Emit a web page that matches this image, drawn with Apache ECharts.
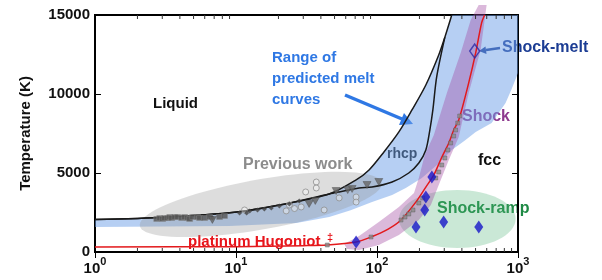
<!DOCTYPE html>
<html><head><meta charset="utf-8">
<title>Platinum melting curve</title>
<script src="https://cdn.jsdelivr.net/npm/echarts@6/dist/echarts.min.js"></script>
<style>
  html, body { margin: 0; padding: 0; background: #fff; }
  #chart { width: 602px; height: 280px; }
</style>
</head>
<body>
<div id="chart"></div>
<script>
// pressure (GPa, log axis) vs temperature (K)
var xRange = [1, 1000];
var yRange = [0, 15000];
var yStep = 5000;
var xMinorTicks = [2,3,4,5,6,7,8,9,20,30,40,50,60,70,80,90,200,300,400,500,600,700,800,900];

// melt curves (black)
var outerMelt = [[1,2050],[3.18,2200],[10.1,2530],[20.3,2970],[45.8,3670],[71.1,4560],[87.8,5190],[112,6330],[143,7600],[177,8990],[222,10570],[274,12470],[303,13600],[339,15000]];
var rhcpMelt = [[1,2050],[3.18,2200],[10.1,2530],[20.3,2970],[45.8,3670],[53.9,3800],[74.6,4050],[92.2,4110],[128,4430],[168,5000],[198,5630],[222,6460],[237,7720],[249,8990],[265,11080],[303,13600]];

// lower / right edge of the predicted range band
var bandLower = [[1000,15000],[1000,11330],[900,10300],[816,9430],[650,8165],[501,7595],[420,7050],[339,6456],[270,5550],[208,4684],[160,4050],[128,3608],[92.2,3165],[65,2650],[45.8,2215],[26.8,1835],[9,1646],[1,1580]];

// platinum Hugoniot (red)
var hugoniot = [[1,320],[10,340],[30,400],[44.4,443],[71.1,633],[90.7,950],[120,1450],[148,2025],[189,3170],[222,4110],[253,4880],[288,6000],[323,6900],[350,7720],[380,8350],[447,10700],[501,12600],[552,14500],[580,15000]];
var hugoniotPts = [[44.4,443],[90.7,949],[148,2025],[158,2215],[168,2405],[180,2658],[198,3101],[211,3418],[261,4684],[274,5063],[288,5506],[303,5949],[318,6456],[333,6899],[350,7342],[361,7721],[374,8164],[386,8607]];

// shock region (purple)
var shockArea = [[58.5,506],[74.6,1013],[103,1899],[143,2848],[183,3734],[198,4684],[218,6139],[253,7405],[313,10063],[392,12595],[462,14683],[526,15633],[599,15633],[543,12785],[447,10063],[380,7278],[323,5823],[274,4241],[241,2975],[198,2025],[143,1076],[103,443],[74.6,127],[61.4,190]];
// previous work ellipse: two tips
var prevWorkTips = [[2.08,1650],[108,4370]];
// shock-ramp ellipse: bounding corners
var rampBox = [[143,253],[962,3924]];

// previous work data
var prevSquares = [[2.74,2090],[2.88,2150],[3.02,2090],[3.12,2150],[3.28,2150],[3.39,2215],[3.5,2150],[3.68,2215],[3.86,2215],[4.12,2150],[4.32,2215],[4.54,2150],[4.69,2090],[4.93,2215],[5.34,2215],[5.52,2150],[5.99,2150],[6.5,2215],[7.64,2215],[8.29,2280]];
var prevSmall = [[6.82,2150],[10.6,2470],[11.9,2470],[12.5,2600],[14.2,2660],[15.9,2720],[17.8,2790],[20.3,2910],[23.9,3040],[28.1,3230]];
var prevTriangles = [[6.8,2030],[33,3040],[36.5,3230],[51.3,3860],[62,3920],[66.6,3990],[85,4240],[103,4430]];
var prevCircles = [[11.5,2660],[22.7,2600],[23.9,2975],[26,2750],[29,2850],[31.2,3800],[37.1,4430],[37.1,4050],[42.2,2660],[53.9,3420],[71.1,3480],[71.1,3160]];

// this work
var shockRamp = [[71.1,633],[245,4750],[222,3480],[218,2660],[189,1580],[297,1900],[527,1580]];
var shockMelt = [[493,12720]];

var FONT = '"Liberation Sans", Arial, sans-serif';

function polygonSeries(pts, color, z) {
  return {
    type: 'custom', silent: true, z: z, data: pts, encode: { x: 0, y: 1 },
    renderItem: function (params, api) {
      if (params.dataIndex !== 0) return null;
      var p = pts.map(function (d) { return api.coord(d); });
      return { type: 'polygon', shape: { points: p }, style: { fill: color } };
    }
  };
}

function tipEllipseSeries(tips, half, color, z) {
  return {
    type: 'custom', silent: true, z: z, data: tips, encode: { x: 0, y: 1 },
    renderItem: function (params, api) {
      if (params.dataIndex !== 0) return null;
      var p1 = api.coord(tips[0]), p2 = api.coord(tips[1]);
      var cx = (p1[0] + p2[0]) / 2, cy = (p1[1] + p2[1]) / 2;
      var dx = p2[0] - p1[0], dy = p2[1] - p1[1];
      var len = Math.sqrt(dx * dx + dy * dy) / 2, ang = Math.atan2(dy, dx);
      var pts = [];
      for (var i = 0; i < 90; i++) {
        var t = i / 90 * 2 * Math.PI, u = len * Math.cos(t), v = half * Math.sin(t);
        pts.push([cx + u * Math.cos(ang) - v * Math.sin(ang), cy + u * Math.sin(ang) + v * Math.cos(ang)]);
      }
      return { type: 'polygon', shape: { points: pts }, style: { fill: color } };
    }
  };
}

function boxEllipseSeries(box, color, z) {
  return {
    type: 'custom', silent: true, z: z, data: box, encode: { x: 0, y: 1 },
    renderItem: function (params, api) {
      if (params.dataIndex !== 0) return null;
      var p1 = api.coord(box[0]), p2 = api.coord(box[1]);
      return {
        type: 'ellipse',
        shape: { cx: (p1[0] + p2[0]) / 2, cy: (p1[1] + p2[1]) / 2, rx: Math.abs(p2[0] - p1[0]) / 2, ry: Math.abs(p2[1] - p1[1]) / 2 },
        style: { fill: color }
      };
    }
  };
}

var minorTickSeries = {
  type: 'custom', silent: true, z: 20, data: xMinorTicks.map(function (v) { return [v, yRange[0]]; }),
  encode: { x: 0, y: 1 },
  renderItem: function (params, api) {
    var v = api.value(0);
    var b = api.coord([v, yRange[0]]), t = api.coord([v, yRange[1]]);
    return { type: 'group', children: [
      { type: 'line', shape: { x1: b[0], y1: b[1], x2: b[0], y2: b[1] - 4 }, style: { stroke: '#333', lineWidth: 1 } },
      { type: 'line', shape: { x1: t[0], y1: t[1], x2: t[0], y2: t[1] + 4 }, style: { stroke: '#333', lineWidth: 1 } }
    ] };
  }
};

function xLabel(v) {
  var e = Math.round(Math.log(v) / Math.LN10);
  return '{b|10}{s|' + e + '}';
}

var chart = echarts.init(document.getElementById('chart'));
chart.setOption({
  animation: false,
  grid: { left: 95, right: 84, top: 15, bottom: 28, show: true, borderColor: '#000', borderWidth: 2, backgroundColor: 'transparent' },
  xAxis: [{
    type: 'log', logBase: 10, min: xRange[0], max: xRange[1], position: 'bottom',
    axisLine: { lineStyle: { color: '#000', width: 2 } },
    axisTick: { inside: true, length: 6, lineStyle: { color: '#000' } },
    splitLine: { show: false },
    axisLabel: {
      margin: 6, formatter: xLabel,
      rich: {
        b: { fontFamily: FONT, fontSize: 15, fontWeight: 'bold', color: '#111', lineHeight: 18, verticalAlign: 'bottom' },
        s: { fontFamily: FONT, fontSize: 11, fontWeight: 'bold', color: '#111', lineHeight: 12, padding: [0, 0, 9, 0], verticalAlign: 'bottom' }
      }
    }
  }, {
    type: 'log', logBase: 10, min: xRange[0], max: xRange[1], position: 'top',
    axisLine: { lineStyle: { color: '#000', width: 2 } },
    axisTick: { inside: true, length: 6, lineStyle: { color: '#000' } },
    splitLine: { show: false }, axisLabel: { show: false }
  }],
  yAxis: [{
    type: 'value', min: yRange[0], max: yRange[1], interval: yStep,
    name: 'Temperature (K)', nameLocation: 'middle', nameGap: 62,
    nameTextStyle: { fontFamily: FONT, fontSize: 15, fontWeight: 'bold', color: '#111' },
    axisLine: { show: true, lineStyle: { color: '#000', width: 2 } },
    axisTick: { inside: true, length: 6, lineStyle: { color: '#000' } },
    splitLine: { show: false },
    axisLabel: { margin: 5, fontFamily: FONT, fontSize: 15, fontWeight: 'bold', color: '#111',
      formatter: function (v) { return String(v); } }
  }, {
    type: 'value', min: yRange[0], max: yRange[1], interval: yStep, position: 'right',
    axisLine: { show: true, lineStyle: { color: '#000', width: 2 } },
    axisTick: { inside: true, length: 6, lineStyle: { color: '#000' } },
    splitLine: { show: false }, axisLabel: { show: false }
  }],
  series: [
    polygonSeries(outerMelt.concat(bandLower), 'rgba(110,160,232,0.5)', 1),
    tipEllipseSeries(prevWorkTips, 25, 'rgba(150,150,150,0.32)', 2),
    boxEllipseSeries(rampBox, 'rgba(80,180,120,0.3)', 3),
    polygonSeries(shockArea, 'rgba(160,70,160,0.38)', 4),
    { type: 'line', data: outerMelt, smooth: 0.3, symbol: 'none', z: 5, lineStyle: { color: '#1a1a1a', width: 1.5 } },
    { type: 'line', data: rhcpMelt, smooth: 0.3, symbol: 'none', z: 5, lineStyle: { color: '#1a1a1a', width: 1.5 } },
    { type: 'line', data: hugoniot, smooth: 0.3, symbol: 'none', z: 5, lineStyle: { color: '#e3191c', width: 1.5 } },
    { type: 'scatter', data: prevCircles, symbol: 'circle', symbolSize: 6, z: 6,
      itemStyle: { color: 'rgba(255,255,255,0.5)', borderColor: '#8e8e8e', borderWidth: 1 } },
    { type: 'scatter', data: prevSquares, symbol: 'rect', symbolSize: [6, 5], z: 6,
      itemStyle: { color: '#555', borderColor: '#888', borderWidth: 0.5 } },
    { type: 'scatter', data: prevSmall, symbol: 'diamond', symbolSize: 5, z: 6, itemStyle: { color: '#444' } },
    { type: 'scatter', data: prevTriangles, symbol: 'triangle', symbolRotate: 180, symbolSize: [8, 7], z: 6,
      itemStyle: { color: '#666', borderColor: '#444', borderWidth: 0.5 } },
    { type: 'scatter', data: hugoniotPts, symbol: 'rect', symbolSize: 4, z: 7,
      itemStyle: { color: '#8a8a8a', borderColor: '#555', borderWidth: 0.5 } },
    { type: 'scatter', data: shockRamp, symbol: 'diamond', symbolSize: [9, 13], z: 8, itemStyle: { color: '#1616c8' } },
    { type: 'scatter', data: shockMelt, symbol: 'diamond', symbolSize: [10, 14], z: 8,
      itemStyle: { color: 'rgba(0,0,0,0)', borderColor: '#2a2aa6', borderWidth: 1.5 } },
    minorTickSeries
  ],
  graphic: [
    { type: 'text', x: 153, y: 104, style: { text: 'Liquid', font: 'bold 15px ' + FONT, fill: '#111', textVerticalAlign: 'middle' } },
    { type: 'text', x: 272, y: 58, style: { text: 'Range of', font: 'bold 15px ' + FONT, fill: '#2f78e4', textVerticalAlign: 'middle' } },
    { type: 'text', x: 272, y: 79, style: { text: 'predicted melt', font: 'bold 15px ' + FONT, fill: '#2f78e4', textVerticalAlign: 'middle' } },
    { type: 'text', x: 272, y: 100, style: { text: 'curves', font: 'bold 15px ' + FONT, fill: '#2f78e4', textVerticalAlign: 'middle' } },
    { type: 'line', shape: { x1: 345, y1: 95, x2: 402, y2: 119 }, style: { stroke: '#2f78e4', lineWidth: 3.5 } },
    { type: 'polygon', shape: { points: [[413, 124], [399, 125], [404, 113]] }, style: { fill: '#2f78e4' } },
    { type: 'text', x: 243, y: 165, style: { text: 'Previous work', font: 'bold 16px ' + FONT, fill: '#8c8c8c', textVerticalAlign: 'middle' } },
    { type: 'text', x: 387, y: 154, style: { text: 'rhcp', font: 'bold 14px ' + FONT, fill: '#111', textVerticalAlign: 'middle' } },
    { type: 'text', x: 478, y: 161, style: { text: 'fcc', font: 'bold 16px ' + FONT, fill: '#111', textVerticalAlign: 'middle' } },
    { type: 'text', x: 462, y: 117, style: { text: 'Shock', font: 'bold 16px ' + FONT, fill: '#8e3a8e', textVerticalAlign: 'middle' } },
    { type: 'text', x: 502, y: 48, style: { text: 'Shock-melt', font: 'bold 16px ' + FONT, fill: '#1c3d94', textVerticalAlign: 'middle' } },
    { type: 'line', shape: { x1: 500, y1: 48, x2: 486, y2: 50 }, style: { stroke: '#1c3d94', lineWidth: 2.5 } },
    { type: 'polygon', shape: { points: [[479, 51], [486.5, 54], [485.5, 46.5]] }, style: { fill: '#1c3d94' } },
    { type: 'text', x: 437, y: 209, style: { text: 'Shock-ramp', font: 'bold 16px ' + FONT, fill: '#1f8a45', textVerticalAlign: 'middle' } },
    { type: 'text', x: 188, y: 242, style: { text: 'platinum Hugoniot', font: 'bold 15px ' + FONT, fill: '#e8141b', textVerticalAlign: 'middle' } },
    { type: 'text', x: 327, y: 238, style: { text: '‡', font: 'bold 11px ' + FONT, fill: '#e8141b', textVerticalAlign: 'middle' } }
  ]
});
</script>
</body></html>
